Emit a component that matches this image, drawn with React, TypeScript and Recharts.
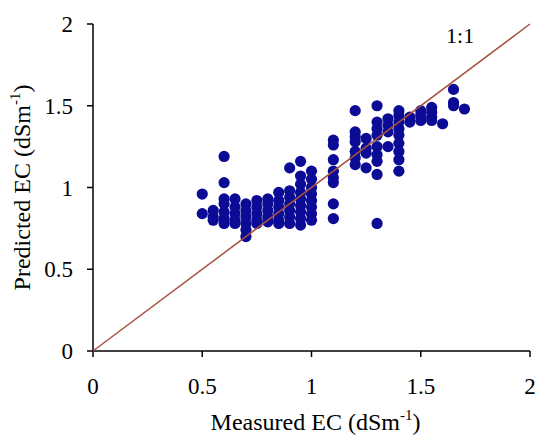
import React from 'react';
import {
  ScatterChart,
  Scatter,
  XAxis,
  YAxis,
  ReferenceDot,
  Label,
} from 'recharts';

const axisTicks = [0, 0.5, 1, 1.5, 2];

// measured EC levels (x) and the predicted EC values read at each level (y)
const measuredLevels = [
  0.5, 0.55, 0.6, 0.65, 0.7, 0.75, 0.8, 0.85, 0.9, 0.95, 1.0,
  1.1, 1.2, 1.25, 1.3, 1.35, 1.4, 1.45, 1.5, 1.55, 1.6, 1.65, 1.7,
];

const predictedAtLevel = [
  [0.96, 0.84],
  [0.86, 0.82, 0.8],
  [1.19, 1.03, 0.93, 0.9, 0.85, 0.81, 0.78],
  [0.93, 0.88, 0.84, 0.8, 0.78],
  [0.9, 0.86, 0.82, 0.78, 0.74, 0.7],
  [0.92, 0.88, 0.84, 0.8, 0.78],
  [0.93, 0.9, 0.86, 0.82, 0.79],
  [0.97, 0.92, 0.88, 0.84, 0.8, 0.78],
  [1.12, 0.98, 0.94, 0.9, 0.86, 0.82, 0.78],
  [1.16, 1.07, 1.02, 0.97, 0.93, 0.89, 0.85, 0.81, 0.77],
  [1.1, 1.05, 1.0, 0.96, 0.92, 0.88, 0.84, 0.8],
  [1.29, 1.26, 1.17, 1.1, 1.06, 1.03, 0.9, 0.81],
  [1.47, 1.34, 1.31, 1.28, 1.22, 1.18, 1.14],
  [1.3, 1.24, 1.21, 1.12],
  [1.5, 1.4, 1.36, 1.32, 1.25, 1.2, 1.16, 1.08, 0.78],
  [1.42, 1.38, 1.34, 1.25],
  [1.47, 1.44, 1.4, 1.36, 1.32, 1.27, 1.22, 1.17, 1.1],
  [1.43, 1.4],
  [1.47, 1.44, 1.41],
  [1.49, 1.46, 1.43, 1.41],
  [1.39],
  [1.6, 1.52, 1.5],
  [1.48],
];

// 1:1 line end points
const oneToOne = [
  { measured: 0, predicted: 0 },
  { measured: 2, predicted: 2 },
];

const points = measuredLevels.flatMap((m, i) =>
  predictedAtLevel[i].map((p) => ({ measured: m, predicted: p }))
);

const DOT = '#0b0b95';
const LINE = '#a5523f';

const Dot = (props: any) => (
  <circle cx={props.cx} cy={props.cy} r={5.6} fill={DOT} />
);

const NoDot = () => <g />;

const XTitle = (props: any) => {
  const { x, y, width } = props.viewBox;
  return (
    <text x={x + width / 2 + 4} y={y + 79} textAnchor="middle" fontSize={24} fill="#000">
      <tspan>Measured EC (dSm</tspan>
      <tspan fontSize={15} dy={-10}>-1</tspan>
      <tspan dy={10}>)</tspan>
    </text>
  );
};

const YTitle = (props: any) => {
  const { y, height } = props.viewBox;
  const cx = 30;
  const cy = y + height / 2;
  return (
    <text
      x={cx}
      y={cy}
      textAnchor="middle"
      fontSize={24}
      fill="#000"
      transform={`rotate(-90, ${cx}, ${cy})`}
    >
      <tspan>Predicted EC (dSm</tspan>
      <tspan fontSize={15} dy={-10}>-1</tspan>
      <tspan dy={10}>)</tspan>
    </text>
  );
};

export default function App() {
  return (
    <div style={{ position: 'absolute', left: 0, top: 0, background: '#fff' }}>
      <ScatterChart
        width={536}
        height={436}
        margin={{ top: 24, right: 6, bottom: 0, left: 0 }}
        style={{ fontFamily: '"Liberation Serif", "Times New Roman", serif' }}
      >
        <XAxis
          type="number"
          dataKey="measured"
          domain={[0, 2]}
          ticks={axisTicks}
          height={85}
          tickSize={6}
          tickMargin={21}
          axisLine={{ stroke: '#000', strokeWidth: 1.5 }}
          tickLine={{ stroke: '#000', strokeWidth: 1.5 }}
          tick={{ fill: '#000', fontSize: 23 }}
          label={<Label content={XTitle} />}
        />
        <YAxis
          type="number"
          dataKey="predicted"
          domain={[0, 2]}
          ticks={axisTicks}
          width={93}
          tickSize={6}
          tickMargin={14}
          axisLine={{ stroke: '#000', strokeWidth: 1.5 }}
          tickLine={{ stroke: '#000', strokeWidth: 1.5 }}
          tick={{ fill: '#000', fontSize: 23 }}
          label={<Label content={YTitle} />}
        />
        <Scatter data={points} shape={Dot} isAnimationActive={false} />
        <Scatter
          data={oneToOne}
          line={{ stroke: LINE, strokeWidth: 1.5 }}
          shape={NoDot}
          isAnimationActive={false}
        />
        <ReferenceDot
          x={1.68}
          y={1.93}
          r={0}
          fill="none"
          stroke="none"
          label={{ value: '1:1', position: 'center', fill: '#000', fontSize: 22 }}
        />
      </ScatterChart>
    </div>
  );
}
